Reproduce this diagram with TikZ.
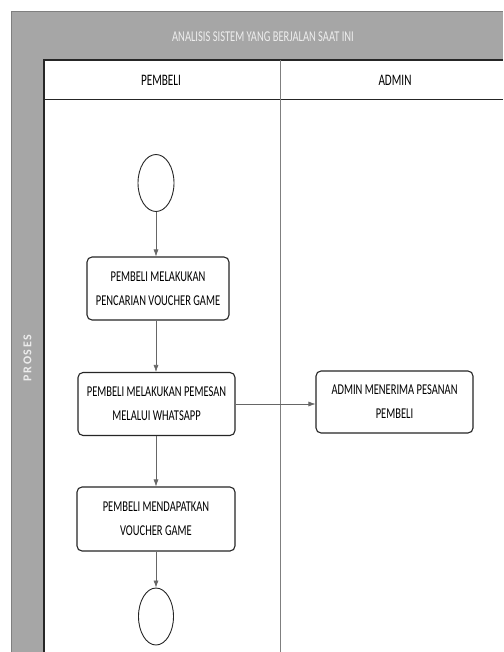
\documentclass[tikz,border=0pt]{standalone}
\usepackage{fontspec}
\setmainfont{Carlito}
\newfontfamily\cond[FakeStretch=0.7]{Carlito}
\usetikzlibrary{arrows.meta,shapes.geometric}
\definecolor{bandgray}{HTML}{A6A6A6}
\definecolor{framegray}{HTML}{7F7F7F}
\definecolor{titletxt}{HTML}{EDEDED}
\tikzset{
  actbox/.style={draw=black!85, line width=1.1pt, rounded corners=5pt, fill=white, align=center,
    font={\cond\fontsize{15}{24}\selectfont}, inner sep=0pt},
  termnode/.style={draw=black!85, line width=0.9pt, ellipse, fill=white, inner sep=0pt},
  flow/.style={draw=black!60, line width=0.6pt, -{Latex[length=7pt,width=5pt]}},
  lanetxt/.style={font={\cond\fontsize{16}{18}\selectfont}},
}
\begin{document}
\begin{tikzpicture}[x=1pt,y=-1pt]
\useasboundingbox (0,0) rectangle (503,652);
\fill[white] (0,0) rectangle (503,652);
% frame
\fill[bandgray] (11,12) rectangle (503,652);
\draw[framegray, line width=1pt] (11,652) -- (11,12) -- (503,12);
\fill[white] (44,60) rectangle (503,652);
\draw[black!85, line width=1.1pt] (44,652) -- (44,60) -- (503,60);
\draw[black!85, line width=1pt] (44,100) -- (503,100);
\draw[framegray, line width=1pt] (280,60) -- (280,652);
% titles
\node[font={\cond\fontsize{15}{18}\selectfont}, text=titletxt] (title) at (263,37) {ANALISIS SISTEM YANG BERJALAN SAAT INI};
\node[lanetxt] (lp) at (161,80) {PEMBELI};
\node[lanetxt] (la) at (395,80) {ADMIN};
\node[rotate=90, text=titletxt, font={\fontsize{12}{14}\selectfont\bfseries\addfontfeatures{LetterSpace=14}}] (proses) at (27.5,358) {PROSES};
% nodes
\node[termnode, minimum width=36pt, minimum height=57pt] (start) at (156,183) {};
\node[actbox, minimum width=142pt, minimum height=63pt] (b1) at (158,288.5) {PEMBELI MELAKUKAN\\PENCARIAN VOUCHER GAME};
\node[actbox, minimum width=157pt, minimum height=63pt] (b2) at (156.5,404) {PEMBELI MELAKUKAN PEMESAN\\MELALUI WHATSAPP};
\node[actbox, minimum width=157pt, minimum height=62pt] (adm) at (394.5,402) {ADMIN MENERIMA PESANAN\\PEMBELI};
\node[actbox, minimum width=158pt, minimum height=64pt] (b3) at (156,519) {PEMBELI MENDAPATKAN\\VOUCHER GAME};
\node[termnode, minimum width=35pt, minimum height=57pt] (end) at (156,616.5) {};
% connectors
\draw[flow] (start.south) -- (start.south |- b1.north);
\draw[flow] (b1.south -| start.south) -- (start.south |- b2.north);
\draw[flow] (b2.south -| start.south) -- (start.south |- b3.north);
\draw[flow] (b3.south -| start.south) -- (end.north);
\draw[flow] (b2.east) -- (b2.east -| adm.west);
\end{tikzpicture}
\end{document}
